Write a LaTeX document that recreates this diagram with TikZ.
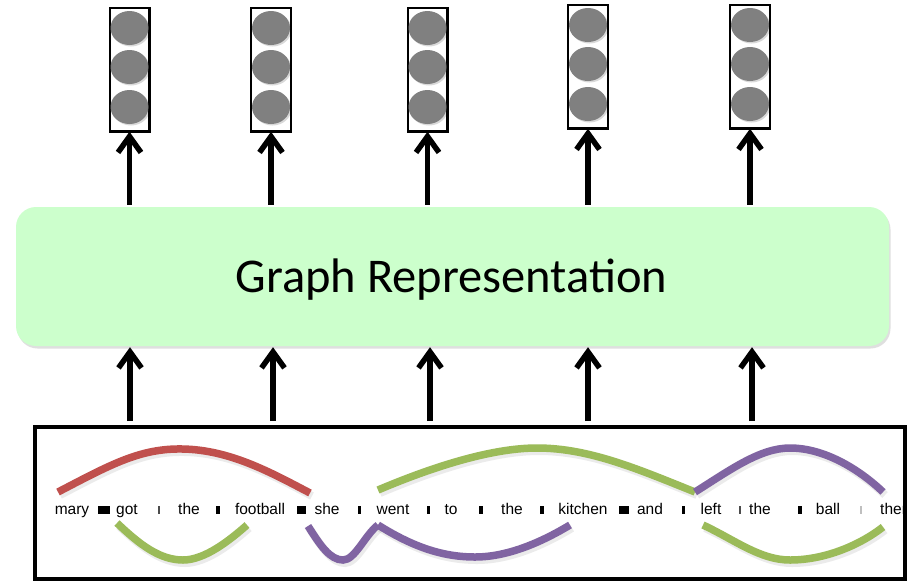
\documentclass[tikz,border=0pt]{standalone}
\usepackage{fontspec}
\setmainfont{Liberation Sans}
\newfontfamily\calib{Carlito}
\usetikzlibrary{arrows.meta,shadows,calc}
\definecolor{grfill}{RGB}{204,255,204}
\definecolor{arcred}{RGB}{192,80,77}
\definecolor{arcgreen}{RGB}{155,187,89}
\definecolor{arcpurple}{RGB}{128,100,162}
\definecolor{dotgray}{RGB}{128,128,128}
\tikzset{
  vecbox/.style={draw=black, line width=1.5pt, fill=white, minimum width=39pt, minimum height=123pt, inner sep=0pt},
  arr/.style={line width=5.5pt, -{Straight Barb[length=16pt,width=23pt]}},
  word/.style={font=\fontsize{15.5}{17}\selectfont, anchor=base, inner sep=0pt},
  arcline/.style={line width=7.5pt},
  arcshadow/.style={line width=8pt, draw=black, opacity=0.08},
}
\newcommand{\vecnode}[3]{%
  \node[vecbox] (#1) at (#2,#3) {};
  \foreach \dy in {-41.5,-2.5,37.5} {
    \fill[black, opacity=0.15] ($(#1.center)+(1.5,\dy+1.5)$) ellipse[x radius=19pt, y radius=17pt];
    \fill[dotgray] ($(#1.center)+(0,\dy)$) ellipse[x radius=19pt, y radius=17pt];
  }%
}
\newcommand{\wmk}[3]{\fill[#3] (#1-#2/2,506) rectangle (#1+#2/2,513.5);}
\begin{document}
\begin{tikzpicture}[x=1pt,y=-1pt]
\useasboundingbox (0,0) rectangle (909,582);
\fill[white] (0,0) rectangle (909,582);

% output vectors
\vecnode{v1}{129.5}{69.5}
\vecnode{v2}{271}{69.5}
\vecnode{v3}{427.5}{69.5}
\vecnode{v4}{588}{66.5}
\vecnode{v5}{750}{66.5}
\foreach \i in {1,...,5} {\draw[line width=1.5pt] (v\i.south west) rectangle (v\i.north east);}

% graph representation box
\node[fill=grfill, rounded corners=20pt, minimum width=873pt, minimum height=139pt,
      drop shadow={shadow xshift=1.5pt, shadow yshift=-2.5pt, opacity=0.25}, inner sep=0pt] (gr) at (452.5,276.5) {};
\node[inner sep=0pt, font=\calib\fontsize{48.5}{50}\selectfont] (grlabel) at (451.5,279.5) {Graph Representation};

% arrows graph -> vectors
\foreach \i in {1,...,5} {
  \draw[arr] ($(v\i.south |- gr.north)+(0,-2)$) -- (v\i.south);
}

% input box
\draw[line width=4.5pt] (35,427) rectangle (905,579);
\node[inner sep=0pt, minimum width=0pt] (inp) at (470,503) {};

% bottom arrows
\coordinate (b1) at (130,421);
\coordinate (b2) at (273,421);
\coordinate (b3) at (430,421);
\coordinate (b4) at (588,421);
\coordinate (b5) at (752,421);
\foreach \i in {1,...,5} {
  \draw[arr, shorten >=1pt] (b\i) -- (b\i |- gr.south);
}

\begin{scope}
\clip (37.5,429.5) rectangle (902.5,576.5);
% arcs: shadows
\begin{scope}[shift={(2,3)}]
\draw[arcshadow] (58,492) .. controls (110,465) and (140,448) .. (183,449) .. controls (230,450) and (270,472) .. (310,493);
\draw[arcshadow] (117,523) .. controls (140,545) and (160,560) .. (183,560) .. controls (205,560) and (230,540) .. (247,525);
\draw[arcshadow] (308,526) .. controls (320,545) and (330,560) .. (343,560) .. controls (355,560) and (365,535) .. (378,525);
\draw[arcshadow] (378,525) .. controls (410,545) and (440,557) .. (475,557) .. controls (510,557) and (545,540) .. (570,525);
\draw[arcshadow] (378,490) .. controls (430,468) and (490,448) .. (537,448) .. controls (590,448) and (640,470) .. (695,492);
\draw[arcshadow] (695,492) .. controls (730,470) and (760,448) .. (790,448) .. controls (825,448) and (860,470) .. (883,492);
\draw[arcshadow] (703,525) .. controls (735,540) and (760,560) .. (790,560) .. controls (825,560) and (860,545) .. (883,527);
\end{scope}
% arcs
\draw[arcline, arcred] (58,492) .. controls (110,465) and (140,448) .. (183,449) .. controls (230,450) and (270,472) .. (310,493);
\draw[arcline, arcgreen] (117,523) .. controls (140,545) and (160,560) .. (183,560) .. controls (205,560) and (230,540) .. (247,525);
\draw[arcline, arcpurple] (308,526) .. controls (320,545) and (330,560) .. (343,560) .. controls (355,560) and (365,535) .. (378,525);
\draw[arcline, arcpurple] (378,525) .. controls (410,545) and (440,557) .. (475,557) .. controls (510,557) and (545,540) .. (570,525);
\draw[arcline, arcgreen] (378,490) .. controls (430,468) and (490,448) .. (537,448) .. controls (590,448) and (640,470) .. (695,492);
\draw[arcline, arcpurple] (695,492) .. controls (730,470) and (760,448) .. (790,448) .. controls (825,448) and (860,470) .. (883,492);
\draw[arcline, arcgreen] (703,525) .. controls (735,540) and (760,560) .. (790,560) .. controls (825,560) and (860,545) .. (883,527);

% words
\node[word] (w1) at (72,514) {mary};
\node[word] (w2) at (127,514) {got};
\node[word] (w3) at (189,514) {the};
\node[word] (w4) at (260,514) {football};
\node[word] (w5) at (327,514) {she};
\node[word] (w6) at (393,514) {went};
\node[word] (w7) at (451,514) {to};
\node[word] (w8) at (512,514) {the};
\node[word] (w9) at (583,514) {kitchen};
\node[word] (w10) at (650,514) {and};
\node[word] (w11) at (711,514) {left};
\node[word] (w12) at (760,514) {the};
\node[word] (w13) at (828,514) {ball};
\node[word, anchor=base west] (w14) at (880,514) {then};

% attention marks
\wmk{104}{12}{black}
\wmk{159}{1.5}{black!70}
\wmk{218}{4}{black}
\wmk{301.5}{9}{black}
\wmk{359.5}{3}{black}
\wmk{428.5}{3}{black}
\wmk{480.5}{4}{black}
\wmk{542}{4}{black}
\wmk{624}{10}{black}
\wmk{683}{3}{black}
\wmk{740}{1.5}{black!70}
\wmk{800}{4}{black}
\wmk{861}{2}{black!25}
\end{scope}
\end{tikzpicture}
\end{document}
